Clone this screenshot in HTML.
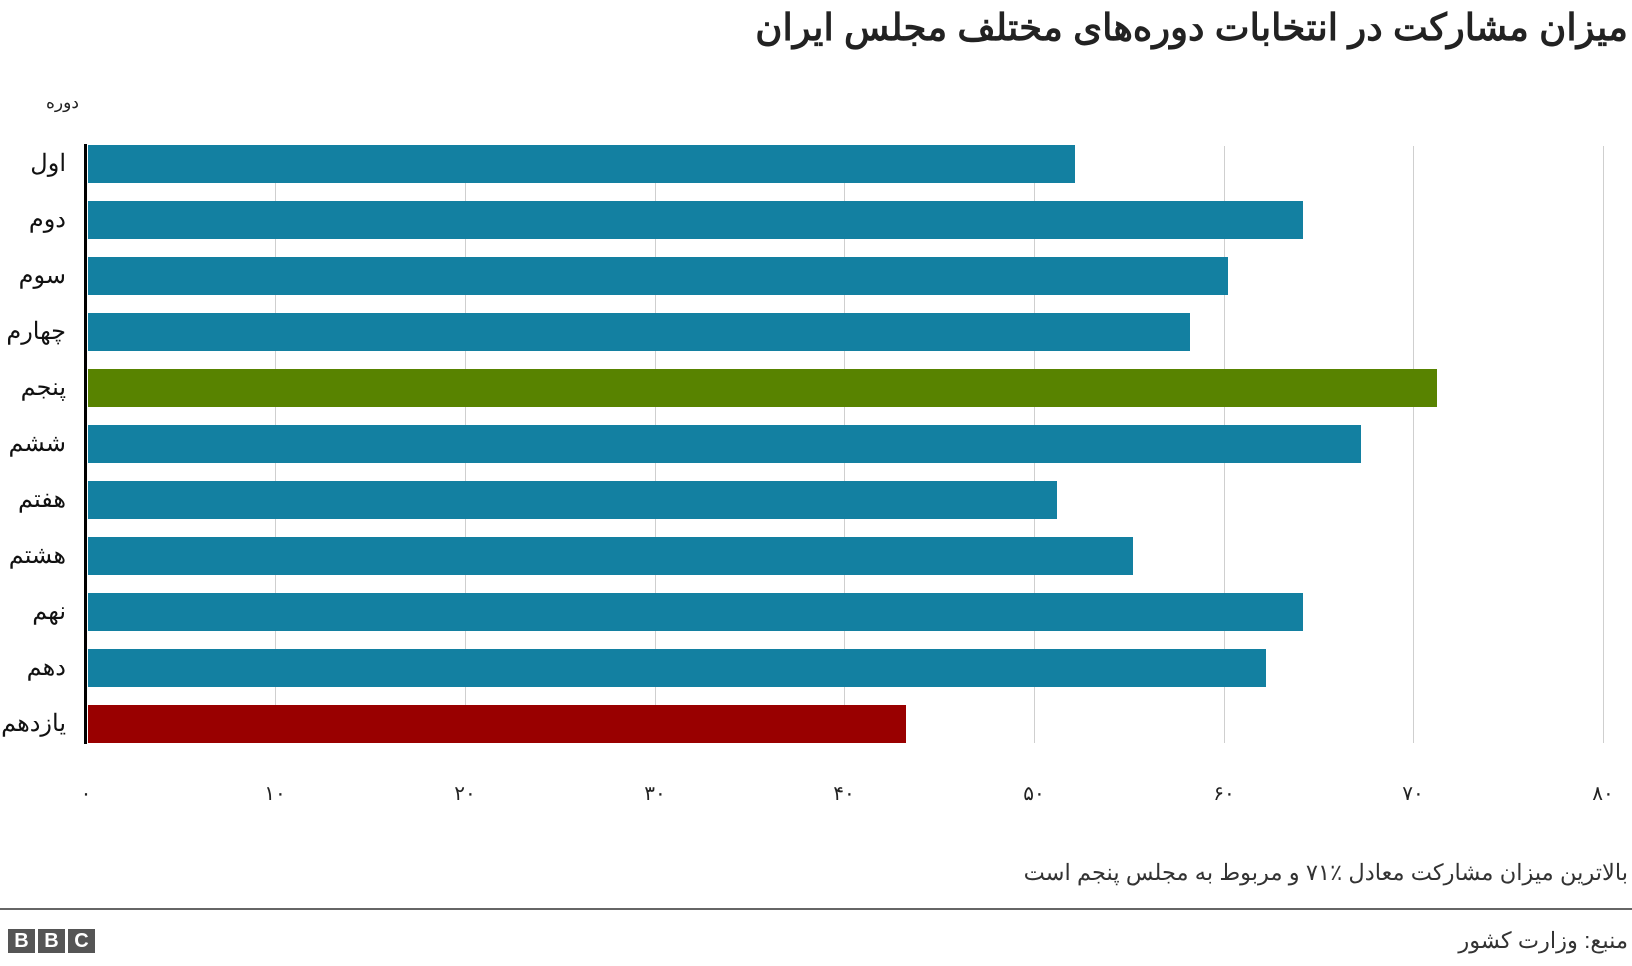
<!DOCTYPE html>
<html><head><meta charset="utf-8"><style>
body{margin:0;width:1632px;height:966px;background:#fff;position:relative;overflow:hidden;font-family:"Liberation Sans","Noto Sans CJK SC",sans-serif;color:#222}
.a{position:absolute;white-space:nowrap}
.bar{position:absolute;left:88px;height:38px;background:#1380A1}
.grid{position:absolute;top:146px;height:597px;width:1px;background:#cfcfcf}
.cat{position:absolute;right:1566px;font-size:24px;direction:rtl;line-height:38px;color:#111}
.tk{position:absolute;top:781px;font-size:20px;transform:translateX(-50%)}
</style></head><body>
<div class="a" style="right:4px;top:6px;font-size:37px;font-weight:bold;direction:rtl">میزان مشارکت در انتخابات دوره‌های مختلف مجلس ایران</div>
<div class="a" style="left:46px;top:93px;font-size:17px;direction:rtl">دوره</div>

<div class="grid" style="left:275px"></div>
<div class="grid" style="left:465px"></div>
<div class="grid" style="left:655px"></div>
<div class="grid" style="left:844px"></div>
<div class="grid" style="left:1034px"></div>
<div class="grid" style="left:1224px"></div>
<div class="grid" style="left:1413px"></div>
<div class="grid" style="left:1603px"></div>

<div class="bar" style="top:145px;width:987px"></div>
<div class="bar" style="top:201px;width:1215px"></div>
<div class="bar" style="top:257px;width:1140px"></div>
<div class="bar" style="top:313px;width:1102px"></div>
<div class="bar" style="top:369px;width:1349px;background:#588300"></div>
<div class="bar" style="top:425px;width:1273px"></div>
<div class="bar" style="top:481px;width:969px"></div>
<div class="bar" style="top:537px;width:1045px"></div>
<div class="bar" style="top:593px;width:1215px"></div>
<div class="bar" style="top:649px;width:1178px"></div>
<div class="bar" style="top:705px;width:818px;background:#990000"></div>
<div class="a" style="left:84px;top:144px;width:3px;height:600px;background:#000"></div>

<div class="cat" style="top:145px">اول</div>
<div class="cat" style="top:201px">دوم</div>
<div class="cat" style="top:257px">سوم</div>
<div class="cat" style="top:313px">چهارم</div>
<div class="cat" style="top:369px">پنجم</div>
<div class="cat" style="top:425px">ششم</div>
<div class="cat" style="top:481px">هفتم</div>
<div class="cat" style="top:537px">هشتم</div>
<div class="cat" style="top:593px">نهم</div>
<div class="cat" style="top:649px">دهم</div>
<div class="cat" style="top:705px">یازدهم</div>

<div class="tk" style="left:86px">۰</div>
<div class="tk" style="left:275px">۱۰</div>
<div class="tk" style="left:465px">۲۰</div>
<div class="tk" style="left:655px">۳۰</div>
<div class="tk" style="left:844px">۴۰</div>
<div class="tk" style="left:1034px">۵۰</div>
<div class="tk" style="left:1224px">۶۰</div>
<div class="tk" style="left:1413px">۷۰</div>
<div class="tk" style="left:1603px">۸۰</div>

<div class="a" style="right:4px;top:860px;font-size:22.5px;direction:rtl;color:#333">بالاترین میزان مشارکت معادل ٪۷۱ و مربوط به مجلس پنجم است</div>
<div class="a" style="left:0;top:908px;width:1632px;height:2px;background:#666"></div>
<div class="a" style="left:8px;top:929px;display:flex;gap:3px">
<div style="width:27px;height:24px;background:#555;color:#fff;font-weight:bold;font-size:20px;text-align:center;line-height:24px">B</div>
<div style="width:27px;height:24px;background:#555;color:#fff;font-weight:bold;font-size:20px;text-align:center;line-height:24px">B</div>
<div style="width:27px;height:24px;background:#555;color:#fff;font-weight:bold;font-size:20px;text-align:center;line-height:24px">C</div>
</div>
<div class="a" style="right:4px;top:928px;font-size:22.5px;direction:rtl;color:#333">منبع: وزارت کشور</div>
</body></html>
